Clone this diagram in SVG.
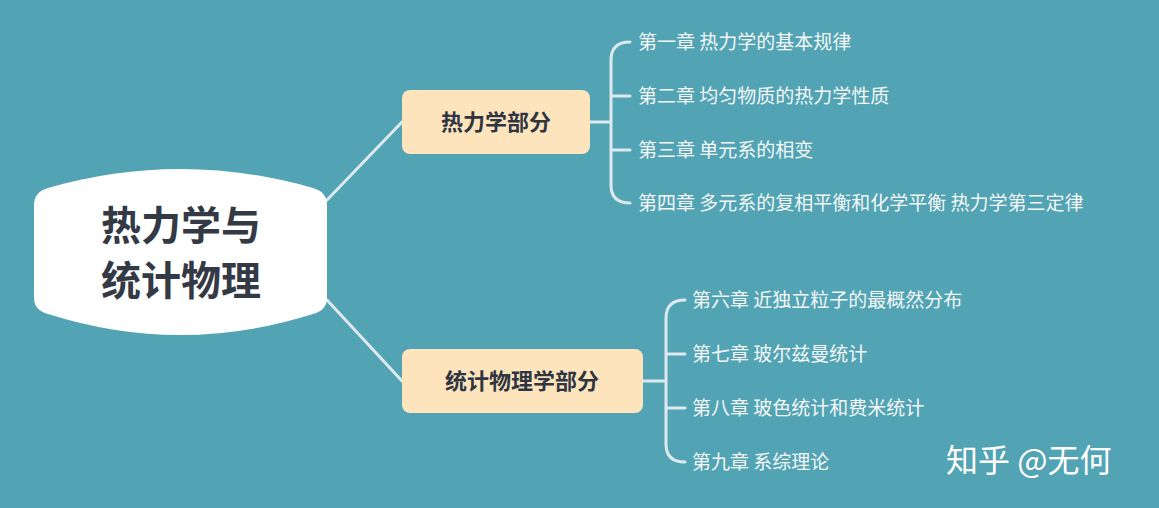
<svg xmlns="http://www.w3.org/2000/svg" width="1159" height="508" viewBox="0 0 1159 508">
<style>
.leaf{font-family:"Noto Sans CJK SC",sans-serif;font-size:19px;fill:#f4f7f8}
.mid{font-family:"Noto Sans CJK SC",sans-serif;font-size:22px;font-weight:bold;fill:#2f3642}
.ln{fill:none;stroke:#dde9ee;stroke-width:3;stroke-linecap:round}
</style>
<rect width="1159" height="508" fill="#52a4b4"/>
<g id="connectors">
<path class="ln" d="M327 200 L402 122"/>
<path class="ln" d="M327 300 L402 381"/>
<path class="ln" d="M590 122 H611 M630 42 Q611 42 611 60 V185 Q611 203 630 203 M611 96 Q611 96 630 96 M611 150 H630"/>
<path class="ln" d="M643 381 H666 M685 300 Q666 300 666 318 V444 Q666 462 685 462 M666 354 H685 M666 408 H685"/>
</g>
<g id="root">
<path d="M34 205 Q34 192 48 188 Q180 150 313 188 Q327 192 327 205 V298 Q327 310 313 314 Q180 356 48 314 Q34 310 34 298 Z" fill="#fff"/>
<text x="181" y="240" text-anchor="middle" font-family="Noto Sans CJK SC,sans-serif" font-size="40" font-weight="bold" fill="#333a45">热力学与</text>
<text x="181" y="295" text-anchor="middle" font-family="Noto Sans CJK SC,sans-serif" font-size="40" font-weight="bold" fill="#333a45">统计物理</text>
</g>
<g id="n1"><rect x="402" y="90" width="188" height="64" rx="8" fill="#fde4bd"/><text class="mid" x="496" y="130" text-anchor="middle">热力学部分</text></g>
<g id="n2"><rect x="402" y="349" width="241" height="64" rx="8" fill="#fde4bd"/><text class="mid" x="522" y="389" text-anchor="middle">统计物理学部分</text></g>
<g id="c1"><text class="leaf" x="638" y="49">第一章 热力学的基本规律</text></g>
<g id="c2"><text class="leaf" x="638" y="103">第二章 均匀物质的热力学性质</text></g>
<g id="c3"><text class="leaf" x="638" y="157">第三章 单元系的相变</text></g>
<g id="c4"><text class="leaf" x="638" y="210">第四章 多元系的复相平衡和化学平衡 热力学第三定律</text></g>
<g id="c6"><text class="leaf" x="692" y="307">第六章 近独立粒子的最概然分布</text></g>
<g id="c7"><text class="leaf" x="692" y="361">第七章 玻尔兹曼统计</text></g>
<g id="c8"><text class="leaf" x="692" y="415">第八章 玻色统计和费米统计</text></g>
<g id="c9"><text class="leaf" x="692" y="469">第九章 系综理论</text></g>
<text x="946" y="472" font-family="Noto Sans CJK SC,sans-serif" font-size="32" fill="#ffffff">知乎 @无何</text>
</svg>
